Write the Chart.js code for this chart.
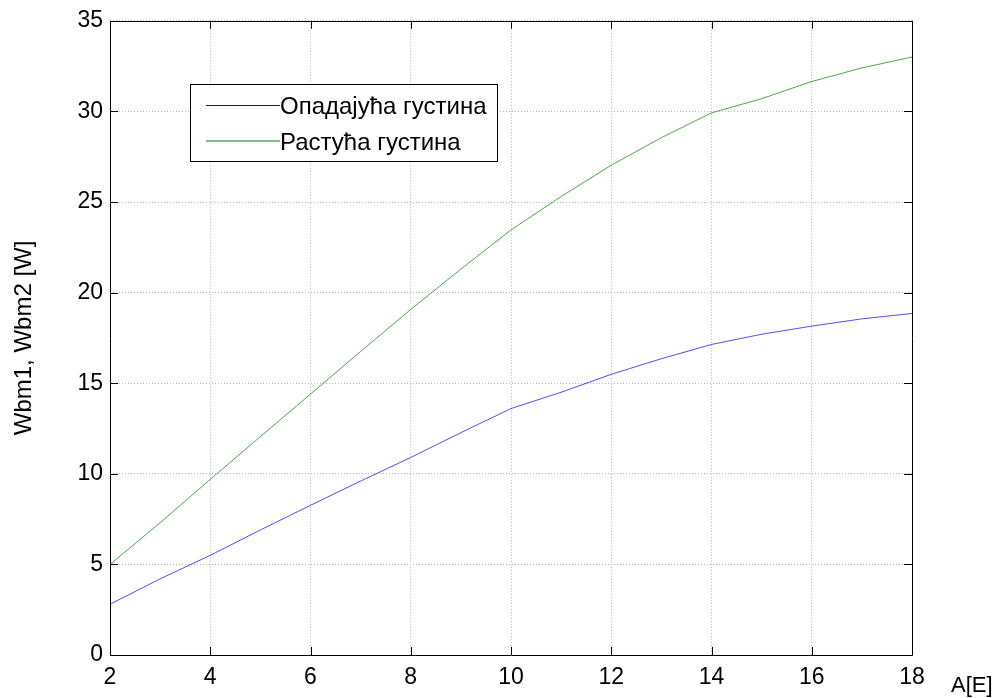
<!DOCTYPE html>
<html>
<head>
<meta charset="utf-8">
<script src="https://cdn.jsdelivr.net/npm/chart.js@4.4.1/dist/chart.umd.min.js"></script>
<style>
html,body{margin:0;padding:0;background:#fff;}
#wrap{width:997px;height:698px;position:relative;}
</style>
</head>
<body>
<div id="wrap"><canvas id="c" width="997" height="698"></canvas></div>
<script>
const xValues = [2,3,4,5,6,7,8,9,10,11,12,13,14,15,16,17,18];
const decreasingDensity = [2.8,4.2,5.5,6.9,8.26,9.6,10.9,12.27,13.6,14.5,15.49,16.35,17.14,17.7,18.15,18.55,18.85];
const increasingDensity = [5.0,7.3,9.69,12.05,14.4,16.75,19.07,21.3,23.46,25.3,27.03,28.55,29.92,30.7,31.65,32.4,33.0];
const seriesLabels = ['Опадајућа густина', 'Растућа густина'];
const seriesColors = ['#0000ff', '#008000'];
const yTitle = 'Wbm1, Wbm2 [W]';
const xTitle = 'A[E]';

const FONT = 'Arial, "Liberation Sans", sans-serif';

const boxPlugin = {
  id: 'boxPlugin',
  afterDraw(chart) {
    const ctx = chart.ctx;
    const a = chart.chartArea;
    const xs = chart.scales.x, ys = chart.scales.y;
    ctx.save();
    ctx.strokeStyle = '#000';
    ctx.lineWidth = 1;
    ctx.beginPath();
    ctx.rect(Math.round(a.left)+0.5, Math.round(a.top)+0.5, Math.round(a.right-a.left), Math.round(a.bottom-a.top));
    ctx.stroke();
    const tl = 8;
    ctx.beginPath();
    xs.ticks.forEach(t => {
      const px = Math.round(xs.getPixelForValue(t.value)) + 0.5;
      ctx.moveTo(px, a.bottom); ctx.lineTo(px, a.bottom - tl);
      ctx.moveTo(px, a.top); ctx.lineTo(px, a.top + tl);
    });
    ys.ticks.forEach(t => {
      const py = Math.round(ys.getPixelForValue(t.value)) + 0.5;
      ctx.moveTo(a.left, py); ctx.lineTo(a.left + tl, py);
      ctx.moveTo(a.right, py); ctx.lineTo(a.right - tl, py);
    });
    ctx.stroke();

    // x-axis title at the bottom right
    ctx.fillStyle = '#000';
    ctx.font = '22px ' + FONT;
    ctx.textAlign = 'left';
    ctx.textBaseline = 'alphabetic';
    ctx.fillText(xTitle, 951, 692);

    // legend
    const lx = 190.5, ly = 84.5, lw = 307, lh = 77;
    ctx.fillStyle = '#fff';
    ctx.fillRect(lx, ly, lw, lh);
    ctx.strokeStyle = '#000';
    ctx.strokeRect(lx, ly, lw, lh);
    ctx.font = '24px ' + FONT;
    chart.data.datasets.forEach((ds, i) => {
      const yy = 105 + i * 35.5;
      ctx.strokeStyle = ds.borderColor;
      ctx.lineWidth = 1;
      ctx.beginPath();
      ctx.moveTo(206, yy + 0.5); ctx.lineTo(280, yy + 0.5);
      ctx.stroke();
      ctx.fillStyle = '#000';
      ctx.textBaseline = 'alphabetic';
      ctx.fillText(ds.label, 280, yy + 9);
    });
    ctx.restore();
  }
};

new Chart(document.getElementById('c'), {
  type: 'line',
  data: {
    datasets: [
      { label: seriesLabels[0], data: xValues.map((x,i)=>({x, y: decreasingDensity[i]})), borderColor: seriesColors[0], borderWidth: 0.7, pointRadius: 0, fill: false, tension: 0 },
      { label: seriesLabels[1], data: xValues.map((x,i)=>({x, y: increasingDensity[i]})), borderColor: seriesColors[1], borderWidth: 0.7, pointRadius: 0, fill: false, tension: 0 }
    ]
  },
  options: {
    responsive: false,
    animation: false,
    layout: { padding: { left: 0, top: 16, right: 85, bottom: 0 } },
    plugins: { legend: { display: false }, tooltip: { enabled: false } },
    scales: {
      x: {
        type: 'linear', min: 2, max: 18,
        afterFit(s) { s.height = 43; },
        ticks: { stepSize: 2, color: '#000', font: { size: 23, family: FONT }, padding: 9, maxRotation: 0 },
        grid: { color: '#b8b8b8', lineWidth: 1, drawTicks: false },
        border: { display: false, dash: [1, 2] }
      },
      y: {
        type: 'linear', min: 0, max: 35,
        afterFit(s) { s.width = 110; },
        ticks: { stepSize: 5, color: '#000', font: { size: 23, family: FONT }, padding: 7 },
        grid: { color: '#b8b8b8', lineWidth: 1, drawTicks: false },
        border: { display: false, dash: [1, 2] },
        title: { display: true, text: yTitle, color: '#000', font: { size: 24, family: FONT }, padding: { top: 10, bottom: 0 } }
      }
    }
  },
  plugins: [boxPlugin]
});
</script>
</body>
</html>
